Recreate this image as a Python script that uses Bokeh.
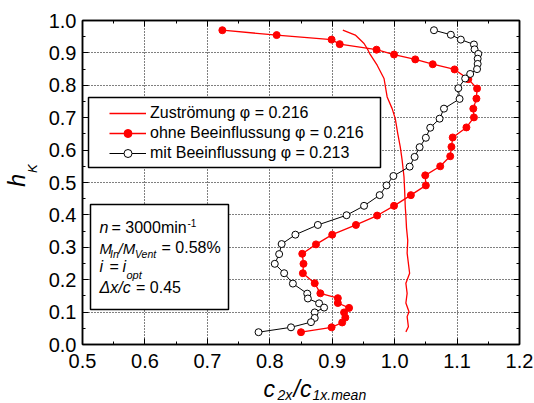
import math
from bokeh.plotting import figure
from bokeh.layouts import column, row
from bokeh.models import (ColumnDataSource, FixedTicker, PrintfTickFormatter, LinearAxis, Range1d,
                          Legend, LegendItem, BoxAnnotation, Label, CustomJSTickFormatter)
from bokeh.embed import file_html
from bokeh.resources import INLINE

# ---------------- data ----------------
x_ticks = [0.5, 0.6, 0.7, 0.8, 0.9, 1.0, 1.1, 1.2]
x_minor = [0.55, 0.65, 0.75, 0.85, 0.95, 1.05, 1.15]
y_ticks = [0.0, 0.1, 0.2, 0.3, 0.4, 0.5, 0.6, 0.7, 0.8, 0.9, 1.0]
y_minor = [0.05, 0.15, 0.25, 0.35, 0.45, 0.55, 0.65, 0.75, 0.85, 0.95]

zu_x = [0.917, 0.937, 0.951, 0.957, 0.960, 0.972, 0.983, 0.988, 0.996, 1.001,
        1.005, 1.009, 1.012, 1.015, 1.016, 1.017, 1.018, 1.019, 1.021, 1.020,
        1.024, 1.018, 1.020, 1.018, 1.023, 1.020, 1.022, 1.018]
zu_h = [0.970, 0.955, 0.929, 0.910, 0.898, 0.862, 0.821, 0.764, 0.728, 0.697,
        0.651, 0.610, 0.569, 0.517, 0.476, 0.425, 0.398, 0.360, 0.321, 0.282,
        0.220, 0.189, 0.158, 0.128, 0.101, 0.086, 0.055, 0.039]

ohne_x = [0.724, 0.811, 0.899, 0.912, 0.971, 0.999, 1.033, 1.061, 1.096, 1.118,
          1.132, 1.131, 1.126, 1.127, 1.115, 1.093, 1.091, 1.089, 1.073, 1.049,
          1.050, 1.026, 0.999, 0.972, 0.938, 0.900, 0.874, 0.852, 0.854, 0.853,
          0.872, 0.881, 0.909, 0.909, 0.927, 0.919, 0.921, 0.916, 0.899, 0.850]
ohne_h = [0.970, 0.955, 0.941, 0.927, 0.910, 0.895, 0.880, 0.865, 0.849, 0.819,
          0.790, 0.759, 0.728, 0.701, 0.670, 0.639, 0.610, 0.581, 0.550, 0.522,
          0.491, 0.461, 0.428, 0.398, 0.369, 0.339, 0.309, 0.280, 0.249, 0.220,
          0.189, 0.158, 0.143, 0.128, 0.113, 0.099, 0.083, 0.068, 0.053, 0.038]

mit_x = [1.063, 1.090, 1.106, 1.127, 1.128, 1.134, 1.133, 1.133, 1.132, 1.121,
         1.113, 1.102, 1.104, 1.079, 1.072, 1.057, 1.050, 1.040, 1.032, 1.024,
         0.998, 0.987, 0.976, 0.951, 0.923, 0.877, 0.841, 0.819, 0.815, 0.808,
         0.823, 0.837, 0.860, 0.861, 0.879, 0.887, 0.872, 0.872, 0.866, 0.834,
         0.782]
mit_h = [0.970, 0.956, 0.941, 0.926, 0.911, 0.897, 0.882, 0.866, 0.850, 0.835,
         0.821, 0.791, 0.758, 0.728, 0.697, 0.669, 0.638, 0.609, 0.579, 0.549,
         0.520, 0.491, 0.461, 0.428, 0.399, 0.369, 0.339, 0.310, 0.279, 0.249,
         0.220, 0.188, 0.157, 0.142, 0.127, 0.114, 0.099, 0.082, 0.069, 0.053,
         0.038]

legend_labels = ["Zuströmung φ = 0.216",
                 "ohne Beeinflussung φ = 0.216",
                 "mit Beeinflussung φ = 0.213"]

FONT = "Liberation Sans"

# ---------------- layout geometry (page px; page starts at 0,0) ----------------
PAGE_W, PAGE_H = 534, 403
LEFT_W = 44            # strip for the y-axis title
MAIN_H = 376           # main figure height
FL, FT, FR, FB = 82, 20, 519, 344   # frame edges in page px
BL = 0.35              # label anchor -> baseline offset (fraction of font size)

p = figure(width=PAGE_W - LEFT_W, height=MAIN_H, title=None,
           x_range=Range1d(0.5, 1.2), y_range=Range1d(0.0, 1.0),
           output_backend="svg", toolbar_location=None,
           min_border_left=FL - LEFT_W, min_border_top=FT,
           min_border_right=PAGE_W - FR, min_border_bottom=MAIN_H - FB)
p.outline_line_color = "black"
p.outline_line_width = 1.5
p.background_fill_color = "white"
p.border_fill_color = "white"


def X(px):
    return 0.5 + (px - FL) * 0.7 / (FR - FL)


def Y(py):
    return (FB - py) * 1.0 / (FB - FT)


xt = FixedTicker(ticks=x_ticks, minor_ticks=x_minor)
yt = FixedTicker(ticks=y_ticks, minor_ticks=y_minor)


def style_axis(ax, labels=True, standoff=6):
    ax.axis_line_color = "black"
    ax.axis_line_width = 1.5
    ax.major_tick_in = 6
    ax.major_tick_out = 0
    ax.minor_tick_in = 3
    ax.minor_tick_out = 0
    ax.major_tick_line_color = "black"
    ax.minor_tick_line_color = "black"
    ax.major_tick_line_width = 1
    ax.minor_tick_line_width = 1
    if labels:
        ax.formatter = PrintfTickFormatter(format="%.1f")
        ax.major_label_text_font = FONT
        ax.major_label_text_font_size = "20px"
        ax.major_label_text_color = "black"
        ax.major_label_standoff = standoff
    else:
        ax.formatter = CustomJSTickFormatter(code="return ''")
        ax.major_label_text_font_size = "1px"
        ax.major_label_standoff = 0


p.xaxis.ticker = xt
p.yaxis.ticker = yt
style_axis(p.xaxis[0], True, 9)
style_axis(p.yaxis[0], True, 6)

top_ax = LinearAxis(ticker=xt)
style_axis(top_ax, False)
p.add_layout(top_ax, "above")
right_ax = LinearAxis(ticker=yt)
style_axis(right_ax, False)
p.add_layout(right_ax, "right")

for g, t in ((p.xgrid[0], xt), (p.ygrid[0], yt)):
    g.ticker = t
    g.grid_line_color = "black"
    g.grid_line_dash = "1 2"
    g.grid_line_width = 1

# ---------------- data renderers ----------------
src_zu = ColumnDataSource(dict(x=zu_x, h=zu_h))
src_ohne = ColumnDataSource(dict(x=ohne_x, h=ohne_h))
src_mit = ColumnDataSource(dict(x=mit_x, h=mit_h))

r_zu = p.line("x", "h", source=src_zu, line_color="#ff0000", line_width=1.3)
r_ohne_l = p.line("x", "h", source=src_ohne, line_color="#ff0000", line_width=1.3)
r_ohne_s = p.scatter("x", "h", source=src_ohne, marker="circle", size=7,
                     fill_color="#ff0000", line_color="#ff0000", line_width=1)
r_mit_l = p.line("x", "h", source=src_mit, line_color="black", line_width=1)
r_mit_s = p.scatter("x", "h", source=src_mit, marker="circle", size=7,
                    fill_color="white", line_color="black", line_width=1)

# ---------------- boxes ----------------
leg_box = BoxAnnotation(left=X(88), right=X(380), top=Y(97), bottom=Y(167),
                        fill_color="white", fill_alpha=1.0, line_color="black",
                        line_width=1.5, line_alpha=1.0)
txt_box = BoxAnnotation(left=X(90), right=X(228), top=Y(204), bottom=Y(309),
                        fill_color="white", fill_alpha=1.0, line_color="black",
                        line_width=1.5, line_alpha=1.0)
p.add_layout(leg_box)
p.add_layout(txt_box)

legend = Legend(items=[LegendItem(label=legend_labels[0], renderers=[r_zu]),
                       LegendItem(label=legend_labels[1], renderers=[r_ohne_l, r_ohne_s]),
                       LegendItem(label=legend_labels[2], renderers=[r_mit_l, r_mit_s])],
                location=(109 - FL, FB - 163), margin=0, padding=0, spacing=0,
                glyph_width=37, glyph_height=20, label_height=20, label_standoff=4,
                label_text_font=FONT, label_text_font_size="16px", label_text_color="black",
                border_line_alpha=0, background_fill_alpha=0)
p.add_layout(legend)


def lab(fig, text, x, y, size, italic=False, angle=0.0):
    fig.add_layout(Label(x=x, y=y, text=text, text_font=FONT,
                         text_font_size=f"{size}px",
                         text_font_style="italic" if italic else "normal",
                         text_color="black", text_align="left",
                         text_baseline="alphabetic", angle=angle))


def mlab(text, px, py, size, italic=False):
    # py is the wanted baseline in page px
    lab(p, text, X(px), Y(py - BL * size), size, italic)


# text box contents
mlab("n", 99, 233, 16, True)
mlab("= 3000min", 111, 233, 16)
mlab("-1", 187, 226, 10)
mlab("M", 99, 253, 15, True)
mlab("In", 109.5, 257, 10.5, True)
mlab("/M", 118, 253, 15, True)
mlab("Vent", 134.5, 257, 10.5, True)
mlab("= 0.58%", 161, 253, 16)
mlab("i", 99, 272, 16, True)
mlab("=", 109, 272, 16)
mlab("i", 122, 272, 16, True)
mlab("opt", 126, 278, 11, True)
mlab("Δx/c", 99, 293, 16, True)
mlab("= 0.45", 135.5, 293, 16)

# ---------------- y-axis title strip ----------------
yfig = figure(width=LEFT_W, height=MAIN_H, title=None, x_range=Range1d(0, LEFT_W),
              y_range=Range1d(MAIN_H, 0), x_axis_type=None, y_axis_type=None,
              min_border=0, outline_line_color=None, toolbar_location=None,
              output_backend="svg")
yfig.border_fill_color = "white"
yfig.background_fill_color = "white"
lab(yfig, "h", 25 - BL * 23, 193, 23, True, math.pi / 2)
lab(yfig, "K", 37 - BL * 13, 177, 13, True, math.pi / 2)

# ---------------- x-axis title strip ----------------
XH = PAGE_H - MAIN_H
xfig = figure(width=PAGE_W, height=XH, title=None, x_range=Range1d(0, PAGE_W),
              y_range=Range1d(PAGE_H, MAIN_H), x_axis_type=None, y_axis_type=None,
              min_border=0, outline_line_color=None, toolbar_location=None,
              output_backend="svg")
xfig.border_fill_color = "white"
xfig.background_fill_color = "white"
lab(xfig, "c", 263, 396.5 - BL * 23, 23, True)
lab(xfig, "2x", 277, 399.5 - BL * 14, 14, True)
lab(xfig, "/c", 293, 396.5 - BL * 23, 23, True)
lab(xfig, "1x.mean", 312, 399.5 - BL * 14, 14, True)

layout = column(row(yfig, p, spacing=0), xfig, spacing=0)
open("out.html", "w").write(file_html(layout, INLINE))
